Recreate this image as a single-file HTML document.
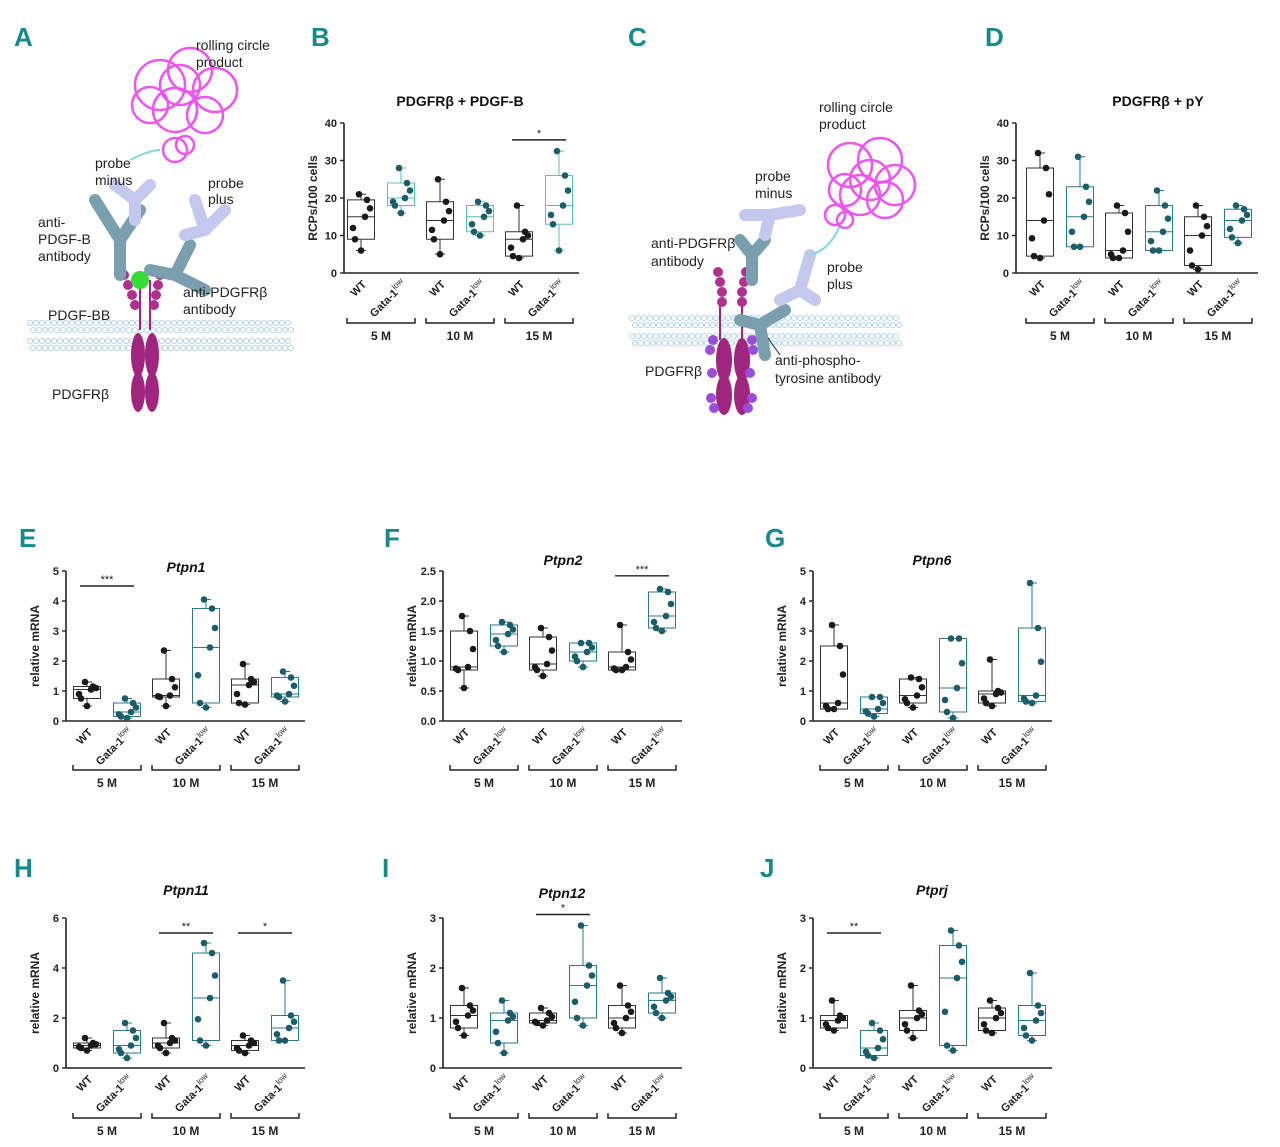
<!DOCTYPE html>
<html><head><meta charset="utf-8"><style>
html,body{margin:0;padding:0;background:#fff;}
svg{display:block;font-family:"Liberation Sans",sans-serif;}
.pl{fill:#17898a;font-weight:bold;font-size:26px;font-family:"Liberation Sans Narrow","Liberation Sans",sans-serif;}
.lb{font-size:14px;fill:#222;}
</style></head><body>
<svg id="s" width="1280" height="1147" viewBox="0 0 1280 1147" xmlns="http://www.w3.org/2000/svg">
<text class="pl" x="14" y="46">A</text>
<text class="pl" x="311" y="46">B</text>
<text class="pl" x="628" y="46">C</text>
<text class="pl" x="985" y="46">D</text>
<text class="pl" x="19" y="547">E</text>
<text class="pl" x="384" y="547">F</text>
<text class="pl" x="765" y="547">G</text>
<text class="pl" x="14" y="877">H</text>
<text class="pl" x="382" y="877">I</text>
<text class="pl" x="760" y="877">J</text>

<!-- Schematic A -->
<g id="memA"></g>
<g>
<path d="M140 280 L140 330" stroke="#a0257e" stroke-width="2"/>
<path d="M150 280 L150 330" stroke="#a0257e" stroke-width="2"/>
<ellipse cx="138" cy="355" rx="7" ry="22" fill="#a0257e"/><ellipse cx="152" cy="355" rx="7" ry="22" fill="#a0257e"/>
<ellipse cx="138" cy="392" rx="7" ry="20" fill="#a0257e"/><ellipse cx="152" cy="392" rx="7" ry="20" fill="#a0257e"/>
<circle cx="124" cy="275" r="5" fill="#b0308e"/><circle cx="128" cy="285" r="5" fill="#b0308e"/><circle cx="132" cy="295" r="5" fill="#b0308e"/><circle cx="135" cy="305" r="5" fill="#b0308e"/>
<circle cx="160" cy="275" r="5" fill="#b0308e"/><circle cx="158" cy="285" r="5" fill="#b0308e"/><circle cx="156" cy="295" r="5" fill="#b0308e"/><circle cx="154" cy="305" r="5" fill="#b0308e"/>
<circle cx="140" cy="280" r="9" fill="#33dd33"/>
<path d="M120 240 L95 200 M120 240 L140 210 M120 240 L120 275" stroke="#7a9fae" stroke-width="12" stroke-linecap="round" fill="none"/>
<path d="M175 275 L150 270 M175 275 L205 290 M175 275 L190 245" stroke="#7a9fae" stroke-width="12" stroke-linecap="round" fill="none"/>
<path d="M135 200 L115 185 M135 200 L150 185 M135 200 L135 220" stroke="#c5c8ee" stroke-width="12" stroke-linecap="round" fill="none"/>
<path d="M205 230 L225 210 M205 230 L195 200 M205 230 L185 235" stroke="#c5c8ee" stroke-width="12" stroke-linecap="round" fill="none"/>
<path d="M130 160 Q150 150 160 150" stroke="#7fd8e0" stroke-width="2" fill="none"/>
<g fill="none" stroke="#ee55ee" stroke-width="2.5">
<circle cx="160" cy="85" r="25"/><circle cx="190" cy="70" r="22"/><circle cx="215" cy="90" r="22"/><circle cx="175" cy="110" r="22"/><circle cx="205" cy="115" r="18"/><circle cx="150" cy="105" r="18"/><circle cx="180" cy="85" r="20"/>
<circle cx="175" cy="150" r="12"/><circle cx="185" cy="145" r="9"/>
</g>
</g>
<text class="lb" x="196" y="50">rolling circle</text><text class="lb" x="196" y="67">product</text>
<text class="lb" x="95" y="168">probe</text><text class="lb" x="95" y="185">minus</text>
<text class="lb" x="208" y="188">probe</text><text class="lb" x="208" y="204">plus</text>
<text class="lb" x="38" y="227">anti-</text><text class="lb" x="38" y="244">PDGF-B</text><text class="lb" x="38" y="261">antibody</text>
<text class="lb" x="183" y="297">anti-PDGFRβ</text><text class="lb" x="183" y="314">antibody</text>
<text class="lb" x="48" y="320">PDGF-BB</text>
<text class="lb" x="52" y="399">PDGFRβ</text>

<!-- Schematic C -->
<g id="memC"></g>
<g>
<path d="M720 300 L720 340 M742 300 L742 340" stroke="#a0257e" stroke-width="2"/>
<circle cx="718" cy="272" r="5" fill="#b0308e"/><circle cx="720" cy="282" r="5" fill="#b0308e"/><circle cx="722" cy="292" r="5" fill="#b0308e"/><circle cx="722" cy="302" r="5" fill="#b0308e"/>
<circle cx="746" cy="272" r="5" fill="#b0308e"/><circle cx="744" cy="282" r="5" fill="#b0308e"/><circle cx="742" cy="292" r="5" fill="#b0308e"/><circle cx="742" cy="302" r="5" fill="#b0308e"/>
<ellipse cx="724" cy="360" rx="8" ry="22" fill="#a0257e"/><ellipse cx="742" cy="360" rx="8" ry="22" fill="#a0257e"/>
<ellipse cx="724" cy="395" rx="8" ry="20" fill="#a0257e"/><ellipse cx="742" cy="395" rx="8" ry="20" fill="#a0257e"/>
<g fill="#9a4ed8" font-size="7" font-weight="bold"><circle cx="713" cy="340" r="5"/><circle cx="710" cy="350" r="5"/><circle cx="752" cy="340" r="5"/><circle cx="753" cy="350" r="5"/><circle cx="712" cy="373" r="5"/><circle cx="750" cy="373" r="5"/><circle cx="711" cy="398" r="5"/><circle cx="714" cy="408" r="5"/><circle cx="752" cy="398" r="5"/><circle cx="748" cy="408" r="5"/></g>
<path d="M752 255 L740 240 M752 255 L765 240 M752 255 L752 280" stroke="#7a9fae" stroke-width="12" stroke-linecap="round" fill="none"/>
<path d="M760 325 L740 320 M760 325 L785 310 M760 325 L765 355" stroke="#7a9fae" stroke-width="12" stroke-linecap="round" fill="none"/>
<path d="M770 215 L745 215 M770 215 L800 210 M770 215 L765 235" stroke="#c5c8ee" stroke-width="12" stroke-linecap="round" fill="none"/>
<path d="M800 290 L780 300 M800 290 L810 255 M800 290 L815 300" stroke="#c5c8ee" stroke-width="12" stroke-linecap="round" fill="none"/>
<path d="M810 255 Q830 250 840 225" stroke="#7fd8e0" stroke-width="2" fill="none"/>
<g fill="none" stroke="#ee55ee" stroke-width="2.5">
<circle cx="850" cy="165" r="22"/><circle cx="880" cy="160" r="22"/><circle cx="895" cy="185" r="20"/><circle cx="860" cy="195" r="20"/><circle cx="885" cy="200" r="18"/><circle cx="845" cy="190" r="16"/><circle cx="870" cy="180" r="20"/>
<circle cx="835" cy="215" r="10"/><circle cx="845" cy="220" r="8"/>
</g>
</g>
<text class="lb" x="819" y="112">rolling circle</text><text class="lb" x="819" y="129">product</text>
<text class="lb" x="755" y="181">probe</text><text class="lb" x="755" y="198">minus</text>
<text class="lb" x="651" y="248">anti-PDGFRβ</text><text class="lb" x="651" y="266">antibody</text>
<text class="lb" x="827" y="272">probe</text><text class="lb" x="827" y="289">plus</text>
<path d="M768 338 L780 355" stroke="#222" stroke-width="1"/>
<text class="lb" x="775" y="365">anti-phospho-</text><text class="lb" x="775" y="383">tyrosine antibody</text>
<text class="lb" x="645" y="376">PDGFRβ</text>
<g id="charts"></g>
</svg>
<script>
var NS="http://www.w3.org/2000/svg";
function el(p,t,a,txt){var e=document.createElementNS(NS,t);for(var k in a)e.setAttribute(k,a[k]);if(txt!=null)e.textContent=txt;p.appendChild(e);return e;}
var S=document.getElementById('s');
function mem(g,x1,x2,y){for(var x=x1;x<x2;x+=6){for(var r=0;r<4;r++){el(g,'circle',{cx:x+(r%2)*3,cy:y+r*7+(r>1?4:0),r:2.6,fill:'none',stroke:'#b8d8ea','stroke-width':1});}}}
mem(document.getElementById('memA'),30,292,323);
mem(document.getElementById('memC'),632,902,318);
var C=document.getElementById('charts');
function chart(o){
 var g=el(C,'g',{});var ax=o.x,top=o.top,bot=o.bot,H=bot-top;
 function Y(v){return bot-v/o.max*H;}
 var right=ax+(o.off||21)+5*40+(2*39)-158+16;
 var cx=[],c0=ax+(o.off||21);cx=[c0,c0+40,c0+79,c0+119,c0+158,c0+198];
 right=c0+198+20;
 el(g,'line',{x1:ax,y1:top,x2:ax,y2:bot,stroke:'#222','stroke-width':1.6});
 el(g,'line',{x1:ax,y1:bot,x2:right,y2:bot,stroke:'#222','stroke-width':1.6});
 o.ticks.forEach(function(t){var y=Y(t);el(g,'line',{x1:ax-4,y1:y,x2:ax,y2:y,stroke:'#222','stroke-width':1.4});
  el(g,'text',{x:ax-7,y:y+4,'text-anchor':'end','font-size':11,'font-weight':'bold',fill:'#222'},o.tl?o.tl(t):t);});
 var mid=(top+bot)/2;
 el(g,'text',{x:0,y:0,transform:'translate('+(ax-27)+','+mid+') rotate(-90)','text-anchor':'middle','font-size':12,'font-weight':'bold',fill:'#222'},o.ylab);
 el(g,'text',{x:o.tx,y:o.ty,'text-anchor':'middle','font-size':o.tfs||14,'font-weight':'bold','font-style':o.it?'italic':'normal',fill:'#111'},o.title);
 o.d.forEach(function(b,i){var x=cx[i],gt=i%2==1;var col=gt?(o.bc||'#2a7a8a'):'#333',dc=gt?'#1c5d6c':'#1a1a1a';
  el(g,'line',{x1:x,y1:Y(b[0]),x2:x,y2:Y(b[1]),stroke:col,'stroke-width':1});
  el(g,'line',{x1:x,y1:Y(b[3]),x2:x,y2:Y(b[4]),stroke:col,'stroke-width':1});
  el(g,'line',{x1:x-5,y1:Y(b[0]),x2:x+5,y2:Y(b[0]),stroke:col});el(g,'line',{x1:x-5,y1:Y(b[4]),x2:x+5,y2:Y(b[4]),stroke:col});
  el(g,'rect',{x:x-13.5,y:Y(b[3]),width:27,height:Math.max(1,Y(b[1])-Y(b[3])),fill:'none',stroke:col,'stroke-width':1});
  el(g,'line',{x1:x-13.5,y1:Y(b[2]),x2:x+13.5,y2:Y(b[2]),stroke:col});
  var pts=[[b[0],0],[b[1],-6],[b[2],4],[b[3],6],[b[4],-2],[(b[1]+b[2])/2,-8],[(b[2]+b[3])/2,9]];
  pts.forEach(function(p){el(g,'circle',{cx:x+p[1],cy:Y(p[0]),r:3.3,fill:dc});});
  var ly=bot+12;
  var t=el(g,'text',{x:0,y:0,transform:'translate('+(x+6)+','+ly+') rotate(-45)','text-anchor':'end','font-size':11,'font-weight':'bold',fill:'#222'});
  if(gt){t.textContent='Gata-1';el(t,'tspan',{dy:-5,'font-size':8,'font-weight':'normal'},'low');}else t.textContent='WT';
 });
 var by=o.by,labs=['5 M','10 M','15 M'];
 for(var k=0;k<3;k++){var a=cx[2*k]-14,bb=cx[2*k+1]+14;
  el(g,'path',{d:'M'+a+' '+(by-5)+' L'+a+' '+by+' L'+bb+' '+by+' L'+bb+' '+(by-5),fill:'none',stroke:'#222','stroke-width':1.5});
  el(g,'text',{x:(a+bb)/2,y:by+17,'text-anchor':'middle','font-size':12,'font-weight':'bold',fill:'#222'},labs[k]);}
 (o.sig||[]).forEach(function(s){var y=Y(s[1]);var a=cx[2*s[0]]-7,bb=cx[2*s[0]+1]+7;
  el(g,'line',{x1:a,y1:y,x2:bb,y2:y,stroke:'#222','stroke-width':1.4});
  el(g,'text',{x:(a+bb)/2,y:y-3,'text-anchor':'middle','font-size':11,fill:'#222'},s[2]);});
}
var T5=[0,1,2,3,4,5],T3=[0,1,2,3],T40=[0,10,20,30,40];
chart({x:344,top:123,bot:273,max:40,ticks:T40,off:17,ylab:'RCPs/100 cells',title:'PDGFRβ + PDGF-B',tx:460,ty:106,by:323,bc:'#5bbec0',
 d:[[6,9,15,19.5,21],[16,18,20,24,28],[5,9,14,19,25],[10,11,15,18,19],[4,4.5,9,11,18],[6,13,18,26,32.5]],sig:[[2,35.5,'*']]});
chart({x:1016,top:123,bot:273,max:40,ticks:T40,off:24,ylab:'RCPs/100 cells',title:'PDGFRβ + pY',tx:1158,ty:106,by:323,
 d:[[4,4.5,14,28,32],[7,7,15,23,31],[4,4,6,16,18],[6,6,11,18,22],[1,2,10,15,18],[8,9.5,14,17,18]]});
chart({x:66,top:571,bot:721,max:5,ticks:T5,ylab:'relative mRNA',title:'Ptpn1',it:1,tx:186,ty:572,by:770,
 d:[[0.5,0.75,1.05,1.15,1.3],[0.1,0.15,0.3,0.6,0.75],[0.5,0.8,0.85,1.4,2.35],[0.45,0.6,2.45,3.75,4.05],[0.55,0.6,1.2,1.4,1.9],[0.65,0.8,0.9,1.45,1.65]],sig:[[0,4.5,'***']]});
chart({x:443,top:571,bot:721,max:2.5,ticks:[0,0.5,1,1.5,2,2.5],tl:function(t){return t.toFixed(1)},ylab:'relative mRNA',title:'Ptpn2',it:1,tx:563,ty:565,by:770,
 d:[[0.55,0.85,0.9,1.5,1.75],[1.15,1.25,1.45,1.6,1.65],[0.75,0.85,0.95,1.4,1.55],[0.9,1.0,1.15,1.3,1.3],[0.85,0.85,0.9,1.15,1.6],[1.5,1.55,1.75,2.15,2.2]],sig:[[2,2.42,'***']]});
chart({x:813,top:571,bot:721,max:5,ticks:T5,ylab:'relative mRNA',title:'Ptpn6',it:1,tx:932,ty:565,by:770,
 d:[[0.4,0.4,0.6,2.5,3.2],[0.15,0.25,0.4,0.8,0.8],[0.45,0.6,0.85,1.4,1.45],[0.1,0.3,1.1,2.75,2.75],[0.5,0.6,0.9,1.0,2.05],[0.6,0.65,0.85,3.1,4.6]]});
chart({x:66,top:918,bot:1068,max:6,ticks:[0,2,4,6],ylab:'relative mRNA',title:'Ptpn11',it:1,tx:186,ty:895,by:1118,
 d:[[0.7,0.8,0.9,1.0,1.2],[0.4,0.6,0.9,1.5,1.8],[0.6,0.8,1.0,1.2,1.8],[0.9,1.1,2.8,4.6,5.0],[0.6,0.7,0.9,1.1,1.3],[1.1,1.1,1.6,2.1,3.5]],sig:[[1,5.4,'**'],[2,5.4,'*']]});
chart({x:443,top:918,bot:1068,max:3,ticks:T3,ylab:'relative mRNA',title:'Ptpn12',it:1,tx:562,ty:898,by:1118,
 d:[[0.65,0.8,1.05,1.25,1.6],[0.3,0.5,0.95,1.1,1.35],[0.85,0.9,0.95,1.1,1.2],[0.85,1.0,1.65,2.05,2.85],[0.7,0.8,1.0,1.25,1.65],[1.0,1.1,1.35,1.5,1.8]],sig:[[1,3.07,'*']]});
chart({x:813,top:918,bot:1068,max:3,ticks:T3,ylab:'relative mRNA',title:'Ptprj',it:1,tx:932,ty:895,by:1118,
 d:[[0.75,0.8,0.95,1.05,1.35],[0.2,0.25,0.4,0.75,0.9],[0.6,0.75,1.0,1.15,1.65],[0.35,0.45,1.8,2.45,2.75],[0.7,0.75,1.0,1.2,1.35],[0.55,0.65,0.95,1.25,1.9]],sig:[[0,2.7,'**']]});
</script>
</body></html>
